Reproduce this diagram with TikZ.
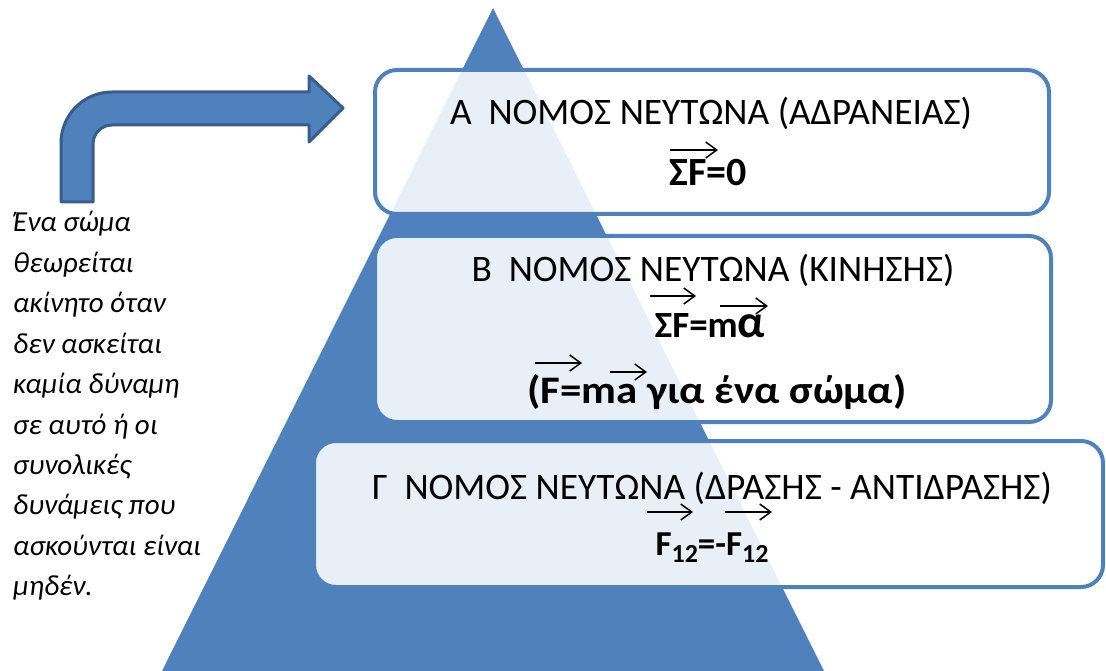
\documentclass[tikz,border=0pt]{standalone}
\usepackage{fontspec}
\setmainfont{Carlito}
\usetikzlibrary{arrows.meta}
\definecolor{pyr}{HTML}{4F81BD}
\definecolor{pyrdark}{HTML}{385D8A}
\tikzset{
  lawbox/.style={draw=pyr, line width=4pt, fill=white, fill opacity=0.88,
    rounded corners=22pt, inner sep=0pt},
  lawtitle/.style={anchor=base, font=\fontsize{37.4}{44}\selectfont, inner sep=0pt},
  formula/.style={anchor=base, font=\fontsize{37}{44}\selectfont\bfseries, inner sep=0pt},
  vecarrow/.style={line width=1.5pt, -{Straight Barb[length=11pt,width=16pt]}},
  note/.style={anchor=base west, font=\fontsize{29}{34}\selectfont\itshape, inner sep=0pt},
}
\newcommand{\sub}[1]{\raisebox{-7pt}{\fontsize{26}{30}\selectfont #1}}
\begin{document}
\begin{tikzpicture}[x=1pt, y=-1pt]
\useasboundingbox (0,0) rectangle (1106,671);

% pyramid
\fill[pyr] (493,8) -- (162,671) -- (824,671) -- cycle;

% law boxes
\node[lawbox, minimum width=674pt, minimum height=144pt] (boxA) at (712,142) {};
\node[lawbox, minimum width=676pt, minimum height=186pt] (boxB) at (713,329) {};
\node[lawbox, minimum width=789pt, minimum height=146pt] (boxC) at (708.5,514) {};

% first law
\node[lawtitle] (titleA) at (711,125) {Α\ \ ΝΟΜΟΣ ΝΕΥΤΩΝΑ (ΑΔΡΑΝΕΙΑΣ)};
\node[formula] (formA) at (708,186) {\fontsize{40}{44}\selectfont ΣF=0};
\draw[vecarrow] (670,150) -- (718,150);

% second law
\node[lawtitle] (titleB) at (713,281) {Β\ \ ΝΟΜΟΣ ΝΕΥΤΩΝΑ (ΚΙΝΗΣΗΣ)};
\node[formula] (formB) at (710,337) {ΣF=m\scalebox{1.25}{α}};
\draw[vecarrow] (650,296) -- (696,296);
\draw[vecarrow] (720,306) -- (768,306);
\node[formula] (formB2) at (717,403) {\scalebox{1.1}[1]{\fontsize{39}{44}\selectfont(F=ma για ένα σώμα)}};
\draw[vecarrow] (535,363) -- (582,363);
\draw[vecarrow] (610,372) -- (647,372);

% third law
\node[lawtitle] (titleC) at (712,499) {Γ\ \ ΝΟΜΟΣ ΝΕΥΤΩΝΑ (ΔΡΑΣΗΣ - ΑΝΤΙΔΡΑΣΗΣ)};
\node[formula] (formC) at (712,555) {\fontsize{35}{42}\selectfont F\sub{12}=-F\sub{12}};
\draw[vecarrow] (647,512) -- (693,512);
\draw[vecarrow] (725,512) -- (772,512);

% bent arrow pointing at the first law
\filldraw[fill=pyr, draw=pyrdark, line width=3pt, line join=round]
  (61,202) -- (61,143)
  .. controls (61,114.8) and (83.8,92) .. (112,92)
  -- (309,92) -- (309,76) -- (343,108) -- (309,142) -- (309,125)
  -- (112,125)
  .. controls (101.5,125) and (93,133.5) .. (93,144)
  -- (93,202) -- cycle;

% side note
\foreach \t [count=\i] in {Ένα σώμα, θεωρείται, ακίνητο όταν, δεν ασκείται,
  καμία δύναμη, σε αυτό ή οι, συνολικές, δυνάμεις που, ασκούνται είναι, μηδέν.}
  \node[note] (note\i) at (13,{232+40.4*(\i-1)}) {\t};
\end{tikzpicture}
\end{document}
